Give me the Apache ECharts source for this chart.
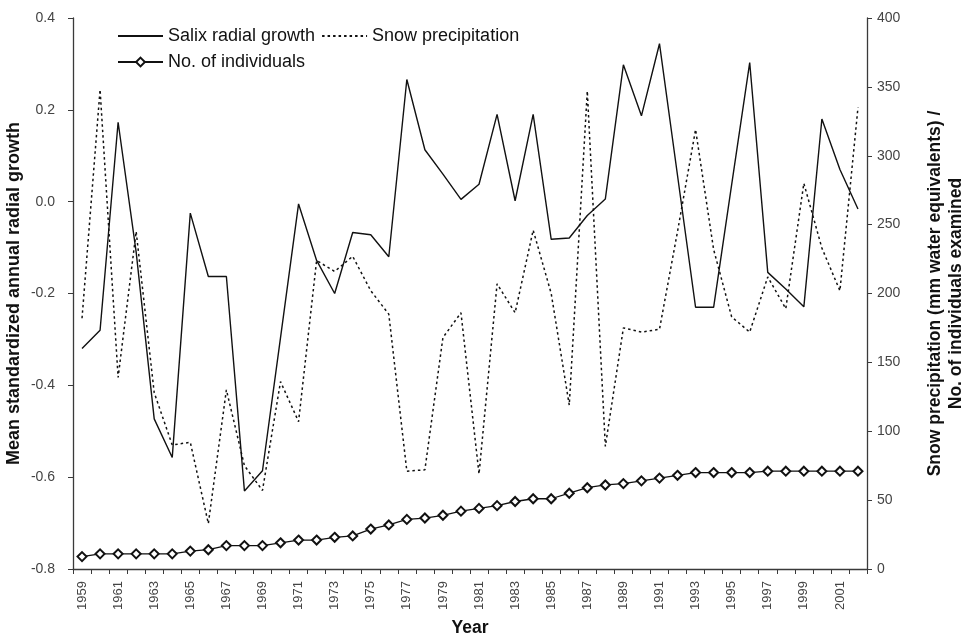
<!DOCTYPE html>
<html>
<head>
<meta charset="utf-8">
<script src="https://cdn.jsdelivr.net/npm/echarts@6/dist/echarts.min.js"></script>
<style>
html,body{margin:0;padding:0;background:#fff;}
#chart{width:963px;height:636px;}
</style>
</head>
<body>
<div id="chart"></div>
<script>
const years = ['1959','1960','1961','1962','1963','1964','1965','1966','1967','1968','1969','1970','1971','1972','1973','1974','1975','1976','1977','1978','1979','1980','1981','1982','1983','1984','1985','1986','1987','1988','1989','1990','1991','1992','1993','1994','1995','1996','1997','1998','1999','2000','2001','2002'];

const salixGrowth = [-0.32,-0.28,0.173,-0.11,-0.473,-0.557,-0.025,-0.163,-0.163,-0.63,-0.586,-0.296,-0.005,-0.128,-0.2,-0.067,-0.072,-0.12,0.266,0.113,0.06,0.005,0.038,0.19,0.002,0.19,-0.082,-0.079,-0.03,0.006,0.298,0.187,0.344,0.057,-0.23,-0.23,0.037,0.303,-0.154,-0.19,-0.229,0.18,0.07,-0.016];

const snowPrecip = [182,348,139,245,128,90,92,33,130,75,57,136,107,224,216,227,202,185,71,72,168,186,69,207,186,246,200,119,347,89,175,172,174,245,319,232,183,172,212,189,280,233,202,335];

const individuals = [9,11,11,11,11,11,13,14,17,17,17,19,21,21,23,24,29,32,36,37,39,42,44,46,49,51,51,55,59,61,62,64,66,68,70,70,70,70,71,71,71,71,71,71];

const leftTicks = {min:-0.8, max:0.4, interval:0.2};
const rightTicks = {min:0, max:400, interval:50};

const chart = echarts.init(document.getElementById('chart'));
const axisCol = '#3a3a3a';
const labelCol = '#444';
const ff = 'Liberation Sans, Arial, sans-serif';
const titleFont = {fontFamily:ff, fontWeight:'bold', fontSize:17.5, color:'#111'};
const legendText = {fontFamily:ff, fontSize:18, color:'#111'};

chart.setOption({
  animation:false,
  backgroundColor:'#fff',
  grid:{left:73, right:96, top:18, bottom:67, outerBoundsMode:'none', containLabel:false},
  legend:[
    {data:[{name:'Salix radial growth', itemStyle:{opacity:0}}, {name:'Snow precipitation', itemStyle:{opacity:0}}],
     left:112, top:22, itemWidth:45, itemHeight:14, itemGap:6, textStyle:legendText},
    {data:['No. of individuals'], left:112, top:48, itemWidth:45, itemHeight:11, itemGap:6, textStyle:legendText}
  ],
  xAxis:{
    type:'category', data:years, boundaryGap:true,
    name:'Year', nameLocation:'middle', nameGap:50, nameTextStyle:titleFont,
    axisLine:{onZero:false, lineStyle:{color:axisCol, width:1.3}},
    axisTick:{show:true, interval:0, length:5, lineStyle:{color:axisCol}},
    axisLabel:{interval:1, rotate:90, margin:12, fontSize:13, color:labelCol, fontFamily:ff},
    splitLine:{show:false}
  },
  yAxis:[
    {type:'value', min:leftTicks.min, max:leftTicks.max, interval:leftTicks.interval,
     name:'Mean standardized annual radial growth', nameLocation:'middle', nameGap:50, nameMoveOverlap:false,
     nameTextStyle:Object.assign({}, titleFont, {fontSize:18}),
     axisLine:{show:true, onZero:false, lineStyle:{color:axisCol, width:1.3}},
     axisTick:{show:true, length:5, lineStyle:{color:axisCol}},
     axisLabel:{margin:18, fontSize:14, color:labelCol, fontFamily:ff, formatter:v=>v.toFixed(1)},
     splitLine:{show:false}},
    {type:'value', min:rightTicks.min, max:rightTicks.max, interval:rightTicks.interval, position:'right',
     name:'Snow precipitation (mm water equivalents) /\nNo. of individuals examined', nameLocation:'middle', nameGap:58,
     nameTextStyle:Object.assign({}, titleFont, {lineHeight:21}),
     axisLine:{show:true, onZero:false, lineStyle:{color:axisCol, width:1.3}},
     axisTick:{show:true, length:5, lineStyle:{color:axisCol}},
     axisLabel:{margin:10, fontSize:14, color:labelCol, fontFamily:ff},
     splitLine:{show:false}}
  ],
  series:[
    {name:'Salix radial growth', type:'line', yAxisIndex:0, data:salixGrowth, symbol:'none',
     lineStyle:{color:'#111', width:1.4}, itemStyle:{color:'#111'}},
    {name:'Snow precipitation', type:'line', yAxisIndex:1, data:snowPrecip, symbol:'none',
     lineStyle:{color:'#111', width:1.5, type:[2.5,3]}, itemStyle:{color:'#111'}},
    {name:'No. of individuals', type:'line', yAxisIndex:1, data:individuals, symbol:'emptyDiamond', symbolSize:9,
     lineStyle:{color:'#111', width:1.3}, itemStyle:{color:'#111', borderWidth:1}}
  ]
});
</script>
</body>
</html>
